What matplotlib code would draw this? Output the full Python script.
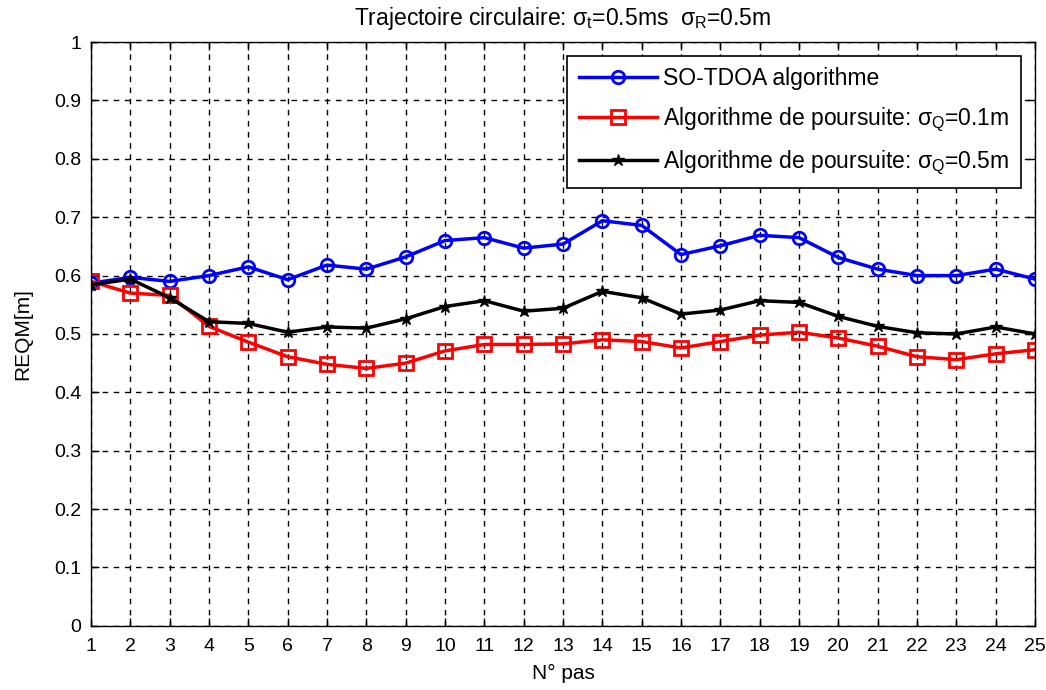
#!/usr/bin/env python3
import numpy as np
import matplotlib
matplotlib.use("Agg")
import matplotlib.pyplot as plt

plt.rcParams['font.family'] = ['Liberation Sans', 'DejaVu Sans']
plt.rcParams['mathtext.fontset'] = 'custom'
plt.rcParams['mathtext.rm'] = 'Liberation Sans'
plt.rcParams['mathtext.it'] = 'Liberation Sans'
plt.rcParams['mathtext.bf'] = 'Liberation Sans'

# data
steps = list(range(1, 26))
so_tdoa = [0.587, 0.597, 0.590, 0.600, 0.615, 0.593, 0.618, 0.611, 0.632,
           0.660, 0.665, 0.647, 0.654, 0.694, 0.686, 0.636, 0.651, 0.669,
           0.665, 0.631, 0.611, 0.600, 0.600, 0.611, 0.594]
pours_01 = [0.590, 0.570, 0.566, 0.513, 0.486, 0.461, 0.448, 0.441, 0.450,
            0.471, 0.482, 0.482, 0.483, 0.490, 0.487, 0.476, 0.487, 0.498,
            0.503, 0.493, 0.479, 0.461, 0.456, 0.466, 0.473]
pours_05 = [0.584, 0.594, 0.562, 0.521, 0.518, 0.503, 0.512, 0.510, 0.526,
            0.547, 0.557, 0.539, 0.544, 0.573, 0.562, 0.534, 0.541, 0.557,
            0.554, 0.530, 0.513, 0.502, 0.500, 0.512, 0.500]

labels = ["SO-TDOA algorithme",
          r"Algorithme de poursuite: $\sigma_{Q}$=0.1m",
          r"Algorithme de poursuite: $\sigma_{Q}$=0.5m"]
title = r"Trajectoire circulaire: $\sigma_{t}$=0.5ms  $\sigma_{R}$=0.5m"


fig = plt.figure(figsize=(10.46, 6.9), dpi=100)
ax = fig.add_axes([0.087, 0.093, 0.9025, 0.846])

ax.plot(steps, so_tdoa, "-o", color="#0000ff", lw=2.5, ms=9,
        mfc="none", mew=2, label=labels[0])
ax.plot(steps, pours_01, "-s", color="#ff0000", lw=2.5, ms=10,
        mfc="none", mew=2, label=labels[1])
ax.plot(steps, pours_05, "-*", color="black", lw=2.5, ms=9,
        label=labels[2])

ax.set_xlim(1, 25)
ax.set_ylim(0, 1)
ax.set_xticks(steps)
ax.set_yticks(np.arange(0, 1.01, 0.1))
ax.set_yticklabels(["0", "0.1", "0.2", "0.3", "0.4", "0.5", "0.6", "0.7",
                    "0.8", "0.9", "1"])
ax.tick_params(direction="in", top=True, right=True, labelsize=14,
               length=6, width=1)
ax.tick_params(axis="x", pad=9)
ax.tick_params(axis="y", pad=7)
ax.grid(True, color="black", linestyle=(0, (4, 4)), linewidth=1)
for s in ax.spines.values():
    s.set_linewidth(1)

ax.set_xlabel("N° pas", fontsize=15, labelpad=6)
ax.set_ylabel("REQM[m]", fontsize=15, labelpad=16)
ax.set_title(title, fontsize=16.5, pad=12)

leg = ax.legend(loc="upper right", fontsize=16.5, fancybox=False,
                edgecolor="black", framealpha=1, borderaxespad=0.6,
                handlelength=3.4, handletextpad=0.3, labelspacing=0.65,
                borderpad=0.5)
leg.get_frame().set_linewidth(1.2)

fig.savefig("out.png", dpi=100)
